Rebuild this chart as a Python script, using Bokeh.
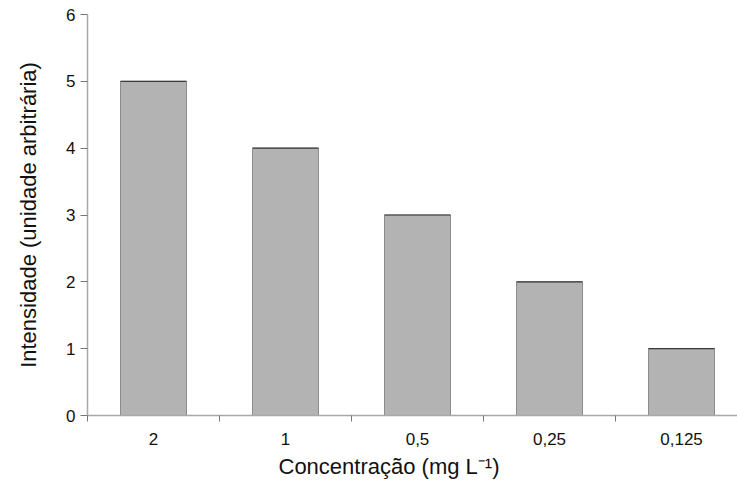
from bokeh.plotting import figure
from bokeh.models import FixedTicker, Range1d, Title
from bokeh.embed import file_html
from bokeh.resources import INLINE

categories = ["2", "1", "0,5", "0,25", "0,125"]
values = [5, 4, 3, 2, 1]
y_ticks = [0, 1, 2, 3, 4, 5, 6]
x_title = "Concentração (mg L⁻¹)"
y_title = "Intensidade (unidade arbitrária)"

FONT = "Liberation Sans"

xs = [i + 0.5 for i in range(len(categories))]
bounds = list(range(len(categories) + 1))
bw = 0.5

p = figure(width=737, height=486, output_backend="svg", toolbar_location=None,
           x_range=Range1d(0, 4.924), y_range=Range1d(0, 6),
           min_border_left=87, min_border_right=0, min_border_top=14, min_border_bottom=71)
p.outline_line_color = None
p.xgrid.visible = False
p.ygrid.visible = False

p.vbar(x=xs, top=values, bottom=0, width=bw, fill_color="#b3b3b3",
       line_color="#8c8c8c", line_width=1)
p.segment(x0=[x - bw / 2 for x in xs], x1=[x + bw / 2 for x in xs],
          y0=values, y1=values, line_color="#3a3a3a", line_width=1.2)

axis_col = "#a8a8a8"

xa = p.xaxis[0]
xa.ticker = FixedTicker(ticks=xs, minor_ticks=bounds)
xa.major_label_overrides = {x: c for x, c in zip(xs, categories)}
xa.major_tick_line_color = None
xa.major_tick_out = 0
xa.major_tick_in = 0
xa.minor_tick_out = 6
xa.minor_tick_in = 0
xa.minor_tick_line_color = "#777777"
xa.axis_line_color = axis_col
xa.axis_line_width = 1.5
xa.major_label_standoff = 11
xa.major_label_text_font = FONT
xa.major_label_text_font_size = "17px"
xa.major_label_text_color = "#111111"

ya = p.yaxis[0]
ya.ticker = FixedTicker(ticks=y_ticks, minor_ticks=[])
ya.major_tick_out = 7
ya.major_tick_in = 0
ya.major_tick_line_color = "#777777"
ya.axis_line_color = axis_col
ya.axis_line_width = 1.5
ya.major_label_standoff = 5
ya.major_label_text_font = FONT
ya.major_label_text_font_size = "17px"
ya.major_label_text_color = "#111111"
ya.axis_label = y_title
ya.axis_label_text_font = FONT
ya.axis_label_text_font_size = "22px"
ya.axis_label_text_font_style = "normal"
ya.axis_label_text_color = "#111111"
ya.axis_label_standoff = 22

t = Title(text=x_title, align="left", offset=191, text_font=FONT,
          text_font_size="22px", text_font_style="normal", text_color="#111111",
          standoff=8)
p.add_layout(t, "below")

open("out.html", "w").write(file_html(p, INLINE))
